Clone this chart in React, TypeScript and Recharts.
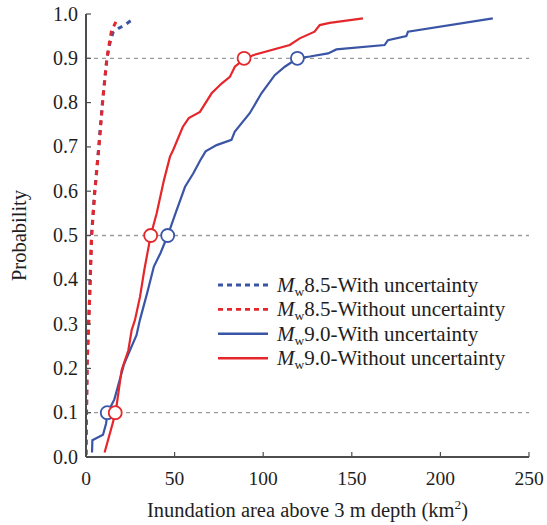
import React from 'react';
import {
  ComposedChart,
  Line,
  Scatter,
  XAxis,
  YAxis,
  ReferenceLine,
  Legend,
  Label,
} from 'recharts';

const BLUE = '#3a55a6';
const RED = '#e5262b';
const AXIS = '#4d4d4d';
const TEXT = '#1e1e1e';
const FONT = "'Liberation Serif', 'Times New Roman', Times, 'DejaVu Serif', serif";
const TXT_STYLE = { fontFamily: FONT };

const X_TICKS = [0, 50, 100, 150, 200, 250];
const Y_TICKS = [0, 0.1, 0.2, 0.3, 0.4, 0.5, 0.6, 0.7, 0.8, 0.9, 1.0];
const GUIDE_P = [0.1, 0.5, 0.9];

// Mw8.5 - with uncertainty (dashed blue)
const mw85WithX = [0, 0.6, 2.0, 3.1, 4.8, 7.2, 9.4, 11.8, 13.5, 15.2, 18.5, 21.8, 25.6];
const mw85WithP = [0.005, 0.212, 0.362, 0.5, 0.595, 0.7, 0.806, 0.9, 0.934, 0.958, 0.968, 0.975, 0.986];

// Mw8.5 - without uncertainty (dashed red)
const mw85WithoutX = [0, 0.7, 2.1, 3.2, 4.9, 7.3, 9.5, 11.8, 13.2, 14.3, 16.0, 17.5];
const mw85WithoutP = [0.005, 0.212, 0.362, 0.5, 0.595, 0.7, 0.806, 0.9, 0.935, 0.96, 0.975, 0.988];

// Mw9.0 - with uncertainty (solid blue)
const mw90WithX = [3.4, 3.6, 9.6, 11.3, 12.2, 16.0, 21.5, 24.8, 28.5, 30.4, 34.5, 38.3, 42.0, 46.1, 50.6, 55.9, 60.5, 64.5, 67.5, 73.7, 82.1, 83.9, 92.4, 99.0, 106.5, 112.2, 119.3, 126.3, 136.6, 141.3, 168.5, 170.4, 180.8, 181.7, 229.6];
const mw90WithP = [0.01, 0.038, 0.05, 0.075, 0.1, 0.13, 0.21, 0.241, 0.275, 0.309, 0.37, 0.43, 0.46, 0.5, 0.551, 0.61, 0.64, 0.67, 0.69, 0.704, 0.716, 0.734, 0.776, 0.821, 0.862, 0.881, 0.9, 0.904, 0.911, 0.92, 0.93, 0.941, 0.95, 0.96, 0.99];

// Mw9.0 - without uncertainty (solid red)
const mw90WithoutX = [10.5, 16.7, 20.1, 23.9, 25.8, 27.6, 30.5, 32.9, 36.5, 39.9, 44.0, 47.4, 49.2, 54.6, 58.0, 64.3, 70.9, 76.5, 81.2, 84.0, 89.2, 94.3, 115.0, 120.6, 129.0, 131.9, 137.5, 156.3];
const mw90WithoutP = [0.01, 0.1, 0.196, 0.241, 0.287, 0.309, 0.362, 0.422, 0.5, 0.55, 0.625, 0.678, 0.693, 0.745, 0.765, 0.779, 0.821, 0.843, 0.858, 0.881, 0.898, 0.907, 0.93, 0.945, 0.96, 0.975, 0.98, 0.99];

// 10%, 50%, 90% markers
const mw90WithPctX = [12.0, 46.1, 119.3];
const mw90WithoutPctX = [16.5, 36.5, 89.2];
const PCT_P = [0.1, 0.5, 0.9];

const toPts = (xs: number[], ps: number[]) => xs.map((x, i) => ({ x, p: ps[i] }));

const SERIES = [
  { key: 's1', label: '8.5-With uncertainty', color: BLUE, dash: '5 5', width: 3, data: toPts(mw85WithX, mw85WithP) },
  { key: 's2', label: '8.5-Without uncertainty', color: RED, dash: '5 5', width: 3, data: toPts(mw85WithoutX, mw85WithoutP) },
  { key: 's3', label: '9.0-With uncertainty', color: BLUE, dash: undefined, width: 2.2, data: toPts(mw90WithX, mw90WithP) },
  { key: 's4', label: '9.0-Without uncertainty', color: RED, dash: undefined, width: 2.2, data: toPts(mw90WithoutX, mw90WithoutP) },
];

const MARKERS = [
  { key: 'm1', color: BLUE, data: toPts(mw90WithPctX, PCT_P) },
  { key: 'm2', color: RED, data: toPts(mw90WithoutPctX, PCT_P) },
];

const TICK_LEN = 5;

const LeftTick = (props: any) => {
  const { x, y, payload } = props;
  return (
    <g>
      <line x1={x} y1={y} x2={x + TICK_LEN} y2={y} stroke={AXIS} strokeWidth={1.2} />
      <text x={x - 8} y={y + 6.5} textAnchor="end" fontSize={20} style={TXT_STYLE} fill={TEXT}>
        {Number(payload.value).toFixed(1)}
      </text>
    </g>
  );
};

const RightTick = (props: any) => {
  const { x, y } = props;
  return <line x1={x} y1={y} x2={x - TICK_LEN} y2={y} stroke={AXIS} strokeWidth={1.2} />;
};

const BottomTick = (props: any) => {
  const { x, y, payload } = props;
  return (
    <g>
      <line x1={x} y1={y} x2={x} y2={y - TICK_LEN} stroke={AXIS} strokeWidth={1.2} />
      <text x={x} y={y + 28} textAnchor="middle" fontSize={19.5} style={TXT_STYLE} fill={TEXT}>
        {payload.value}
      </text>
    </g>
  );
};

const TopTick = (props: any) => {
  const { x, y } = props;
  return <line x1={x} y1={y} x2={x} y2={y + TICK_LEN} stroke={AXIS} strokeWidth={1.2} />;
};

const XLabel = (props: any) => {
  const vb = props.viewBox || {};
  const cx = vb.x + vb.width / 2;
  return (
    <text x={cx} y={vb.y + 60} textAnchor="middle" fontSize={20.5} style={TXT_STYLE} fill={TEXT}>
      Inundation area above 3 m depth (km
      <tspan fontSize={13.5} dy={-8}>2</tspan>
      <tspan dy={8}>)</tspan>
    </text>
  );
};

const YLabel = (props: any) => {
  const vb = props.viewBox || {};
  const cy = vb.y + vb.height / 2;
  const x = 26;
  return (
    <text
      x={x}
      y={cy}
      transform={`rotate(-90 ${x} ${cy})`}
      textAnchor="middle"
      fontSize={20.5}
      style={TXT_STYLE}
      fill={TEXT}
    >
      Probability
    </text>
  );
};

const renderLegend = () => (
  <svg width={330} height={105} style={{ display: 'block' }}>
    {SERIES.map((s, i) => {
      const y = 17 + i * 24.4;
      return (
        <g key={s.key}>
          <line
            x1={10}
            y1={y}
            x2={60}
            y2={y}
            stroke={s.color}
            strokeWidth={s.dash ? 2.8 : 2.4}
            strokeDasharray={s.dash ? '5 4' : undefined}
          />
          <text x={69} y={y + 7} fontSize={21} style={TXT_STYLE} fill={TEXT}>
            <tspan fontStyle="italic">M</tspan>
            <tspan fontSize={13.5} dy={4}>w</tspan>
            <tspan dy={-4}>{s.label}</tspan>
          </text>
        </g>
      );
    })}
  </svg>
);

export default function App() {
  return (
    <div style={{ position: 'absolute', left: 0, top: 0, width: 547, height: 525, background: '#fff' }}>
      <ComposedChart width={547} height={525} margin={{ top: 14, right: 18, bottom: 0, left: 0 }}>
        <XAxis
          xAxisId="b"
          type="number"
          dataKey="x"
          domain={[0, 250]}
          ticks={X_TICKS}
          allowDataOverflow
          orientation="bottom"
          height={68}
          tickSize={0}
          tickMargin={0}
          tickLine={false}
          tick={<BottomTick />}
          axisLine={{ stroke: AXIS, strokeWidth: 2 }}
          interval={0}
        >
          <Label content={<XLabel />} />
        </XAxis>
        <XAxis
          xAxisId="t"
          type="number"
          dataKey="x"
          domain={[0, 250]}
          ticks={X_TICKS}
          allowDataOverflow
          orientation="top"
          height={0}
          tickSize={0}
          tickMargin={0}
          tickLine={false}
          tick={<TopTick />}
          axisLine={{ stroke: AXIS, strokeWidth: 2 }}
          interval={0}
        />
        <YAxis
          yAxisId="l"
          type="number"
          dataKey="p"
          domain={[0, 1]}
          ticks={Y_TICKS}
          allowDataOverflow
          orientation="left"
          width={86}
          tickSize={0}
          tickMargin={0}
          tickLine={false}
          tick={<LeftTick />}
          axisLine={{ stroke: AXIS, strokeWidth: 2 }}
          interval={0}
        >
          <Label content={<YLabel />} />
        </YAxis>
        <YAxis
          yAxisId="r"
          type="number"
          dataKey="p"
          domain={[0, 1]}
          ticks={Y_TICKS}
          allowDataOverflow
          orientation="right"
          width={0}
          tickSize={0}
          tickMargin={0}
          tickLine={false}
          tick={<RightTick />}
          axisLine={{ stroke: AXIS, strokeWidth: 2 }}
          interval={0}
        />
        {GUIDE_P.map((p) => (
          <ReferenceLine
            key={p}
            xAxisId="b"
            yAxisId="l"
            y={p}
            stroke="#9a9a9a"
            strokeWidth={1.3}
            strokeDasharray="4 4"
          />
        ))}
        {SERIES.map((s) => (
          <Line
            key={s.key}
            xAxisId="b"
            yAxisId="l"
            data={s.data}
            dataKey="p"
            name={s.label}
            type="linear"
            stroke={s.color}
            strokeWidth={s.width}
            strokeDasharray={s.dash}
            dot={false}
            activeDot={false}
            isAnimationActive={false}
          />
        ))}
        {MARKERS.map((m) => (
          <Scatter
            key={m.key}
            xAxisId="b"
            yAxisId="l"
            data={m.data}
            dataKey="p"
            isAnimationActive={false}
            shape={(props: any) => (
              <circle cx={props.cx} cy={props.cy} r={6.5} fill="#fff" stroke={m.color} strokeWidth={1.8} />
            )}
          />
        ))}
        <Legend
          layout="vertical"
          align="center"
          verticalAlign="middle"
          wrapperStyle={{ left: 208, top: 268, width: 330, height: 105 }}
          content={renderLegend}
        />
      </ComposedChart>
    </div>
  );
}
